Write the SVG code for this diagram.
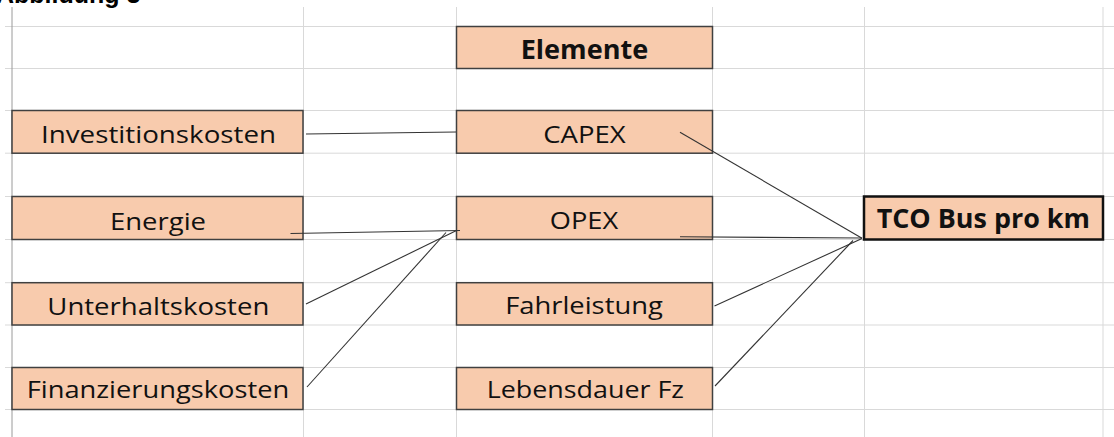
<svg xmlns="http://www.w3.org/2000/svg" width="1114" height="437" viewBox="0 0 1114 437">
  <style>
    .grid { stroke: #d9d9d9; stroke-width: 1; fill: none; }
    .gridL { stroke: #9a9a9a; stroke-width: 1; fill: none; }
    .box { fill: #f8cbad; stroke: #404040; stroke-width: 1.5; }
    .boxB { fill: #f8cbad; stroke: #111; stroke-width: 2.5; }
    .t { font-family: "Open Sans", "Noto Sans", "Liberation Sans", sans-serif; font-size: 24px; fill: #111; text-anchor: middle; }
    .tb { font-family: "Open Sans", "Noto Sans", "Liberation Sans", sans-serif; font-size: 27px; font-weight: bold; fill: #111; text-anchor: middle; }
    .c { stroke: #333; stroke-width: 1.1; fill: none; }
    .title { font-family: "Liberation Sans", Arial, sans-serif; font-size: 25px; font-weight: bold; fill: #000; }
  </style>
  <rect x="0" y="0" width="1114" height="437" fill="#ffffff"/>
  <text class="title" x="-4" y="3">Abbildung 3</text>
  <g id="grid">
    <line class="grid" x1="5" y1="26.5" x2="1114" y2="26.5"/>
    <line class="grid" x1="5" y1="68.5" x2="1114" y2="68.5"/>
    <line class="grid" x1="5" y1="110.5" x2="1114" y2="110.5"/>
    <line class="grid" x1="5" y1="153.2" x2="1114" y2="153.2"/>
    <line class="grid" x1="5" y1="196.5" x2="1114" y2="196.5"/>
    <line class="grid" x1="5" y1="239.5" x2="1114" y2="239.5"/>
    <line class="grid" x1="5" y1="282.7" x2="1114" y2="282.7"/>
    <line class="grid" x1="5" y1="325" x2="1114" y2="325"/>
    <line class="grid" x1="5" y1="367.5" x2="1114" y2="367.5"/>
    <line class="grid" x1="5" y1="409.5" x2="1114" y2="409.5"/>
    <line class="gridL" x1="12" y1="7" x2="12" y2="437"/>
    <line class="grid" x1="303.5" y1="7" x2="303.5" y2="437"/>
    <line class="grid" x1="456.5" y1="7" x2="456.5" y2="437"/>
    <line class="grid" x1="712.5" y1="7" x2="712.5" y2="437"/>
    <line class="grid" x1="864.5" y1="7" x2="864.5" y2="437"/>
    <line class="grid" x1="1103" y1="7" x2="1103" y2="437"/>
  </g>
  <g id="n-investitionskosten">
    <rect class="box" x="12" y="110.5" width="291" height="42.7"/>
    <text class="t" x="158.5" y="143.3" textLength="235" lengthAdjust="spacingAndGlyphs">Investitionskosten</text>
  </g>
  <g id="n-energie">
    <rect class="box" x="12" y="196.5" width="291" height="43"/>
    <text class="t" x="158" y="229.5" textLength="96" lengthAdjust="spacingAndGlyphs">Energie</text>
  </g>
  <g id="n-unterhaltskosten">
    <rect class="box" x="12" y="282.7" width="291" height="42.3"/>
    <text class="t" x="158.3" y="315" textLength="222" lengthAdjust="spacingAndGlyphs">Unterhaltskosten</text>
  </g>
  <g id="n-finanzierungskosten">
    <rect class="box" x="12" y="367.5" width="291" height="42"/>
    <text class="t" x="158" y="398.3" textLength="262.6" lengthAdjust="spacingAndGlyphs">Finanzierungskosten</text>
  </g>
  <g id="n-elemente">
    <rect class="box" x="456.5" y="26.5" width="256" height="42"/>
    <text class="tb" x="584.5" y="59.3" textLength="127.6" lengthAdjust="spacingAndGlyphs">Elemente</text>
  </g>
  <g id="n-capex">
    <rect class="box" x="456.5" y="110.5" width="256" height="42.7"/>
    <text class="t" x="584.5" y="143.3" textLength="82.4" lengthAdjust="spacingAndGlyphs">CAPEX</text>
  </g>
  <g id="n-opex">
    <rect class="box" x="456.5" y="196.5" width="256" height="43"/>
    <text class="t" x="584" y="229" textLength="68.3" lengthAdjust="spacingAndGlyphs">OPEX</text>
  </g>
  <g id="n-fahrleistung">
    <rect class="box" x="456.5" y="282.7" width="256" height="42.3"/>
    <text class="t" x="584" y="314.3" textLength="157.7" lengthAdjust="spacingAndGlyphs">Fahrleistung</text>
  </g>
  <g id="n-lebensdauer">
    <rect class="box" x="456.5" y="367.5" width="256" height="42"/>
    <text class="t" x="585.3" y="398.3" textLength="197.3" lengthAdjust="spacingAndGlyphs">Lebensdauer Fz</text>
  </g>
  <g id="n-tco">
    <rect class="boxB" x="864" y="196.5" width="239" height="43"/>
    <text class="tb" x="983.3" y="228.3" textLength="213.3" lengthAdjust="spacingAndGlyphs">TCO Bus pro km</text>
  </g>
  <g id="connectors">
    <line class="c" x1="306" y1="134" x2="456" y2="132"/>
    <line class="c" x1="290.5" y1="233.5" x2="460" y2="230.5"/>
    <line class="c" x1="306" y1="304" x2="456.5" y2="230.5"/>
    <line class="c" x1="307" y1="387" x2="446" y2="232.5"/>
    <line class="c" x1="680" y1="132.3" x2="862" y2="238.3"/>
    <line class="c" x1="680" y1="236.8" x2="862" y2="238"/>
    <line class="c" x1="714.5" y1="306" x2="862" y2="238.5"/>
    <line class="c" x1="715" y1="386" x2="853" y2="240.5"/>
  </g>
</svg>
